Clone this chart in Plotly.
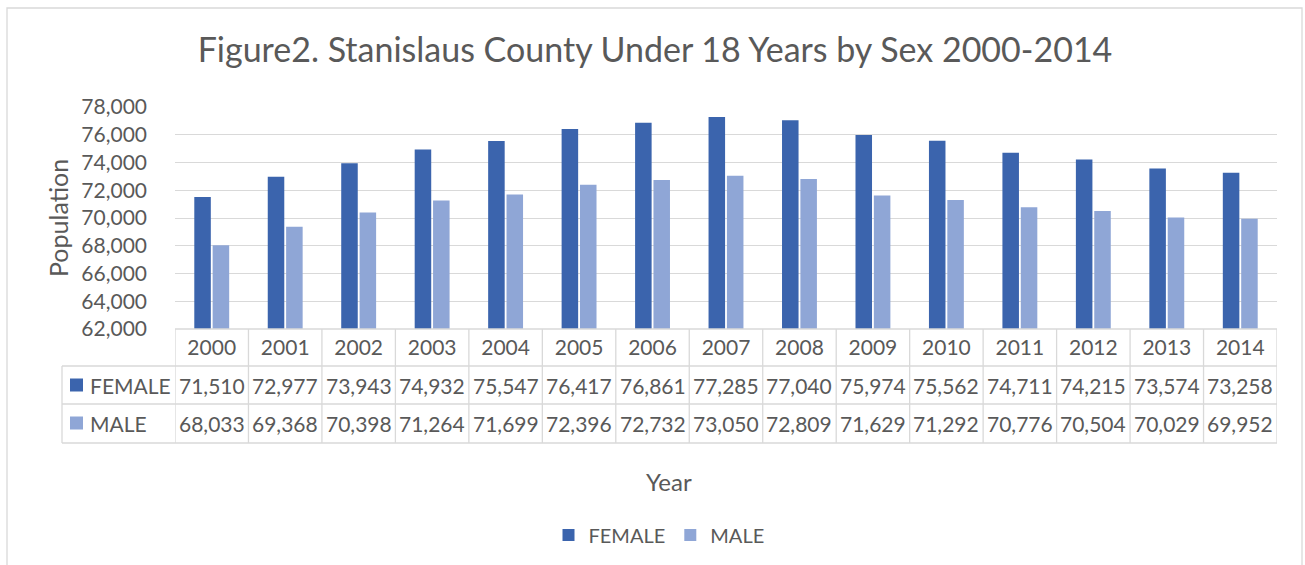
import plotly.graph_objects as go

years = ["2000", "2001", "2002", "2003", "2004", "2005", "2006", "2007",
         "2008", "2009", "2010", "2011", "2012", "2013", "2014"]
female = [71510, 72977, 73943, 74932, 75547, 76417, 76861, 77285,
          77040, 75974, 75562, 74711, 74215, 73574, 73258]
male = [68033, 69368, 70398, 71264, 71699, 72396, 72732, 73050,
        72809, 71629, 71292, 70776, 70504, 70029, 69952]
series_names = ["FEMALE", "MALE"]
colors = ["#3B64AD", "#8FA6D6"]
y_ticks = [62000, 64000, 66000, 68000, 70000, 72000, 74000, 76000, 78000]

FONT = "Lato"
TXT = "#595959"
GRID = "#D9D9D9"
TS = 21  # table / tick font size

W, H = 1305, 565
L, R, T, B = 175, 28, 107, 236
PW = W - L - R
PH = H - T - B


def py(px):  # pixel y -> paper y
    return (H - B - px) / PH


def pxx(px):  # pixel x -> paper x
    return (px - L) / PW


fig = go.Figure()
for name, vals, c in zip(series_names, [female, male], colors):
    fig.add_trace(go.Bar(x=years, y=vals, name=name, marker_color=c,
                         marker_line_width=0))

annotations = []
shapes = []

# table cell texts (x = category index on the category axis)
row_y = [py(385), py(423)]
for vals, yy in zip([female, male], row_y):
    for i, v in enumerate(vals):
        annotations.append(dict(x=i, y=yy, xref="x", yref="paper",
                                xanchor="center", yanchor="middle",
                                text=f"{v:,}", showarrow=False,
                                font=dict(family=FONT, size=TS, color=TXT)))

# row labels
for name, c, yy in zip(series_names, colors, row_y):
    annotations.append(dict(x=pxx(88), y=yy, xref="paper", yref="paper",
                            xanchor="left", yanchor="middle", text=name,
                            showarrow=False,
                            font=dict(family=FONT, size=TS, color=TXT)))
    shapes.append(dict(type="rect", xref="paper", yref="paper",
                       x0=pxx(70), x1=pxx(83), y0=yy - 6.5 / PH, y1=yy + 6.5 / PH,
                       fillcolor=c, line_width=0))

# table lines
n = len(years)
line = dict(color=GRID, width=1.3)
shapes.append(dict(type="line", xref="x", yref="paper", x0=-0.5, x1=n - 0.5,
                   y0=0, y1=0, line=line))
for ypx in [366, 404, 443]:
    shapes.append(dict(type="line", xref="paper", yref="paper", x0=pxx(62), x1=1,
                       y0=py(ypx), y1=py(ypx), line=line))
for i in range(n + 1):
    shapes.append(dict(type="line", xref="x", yref="paper", x0=i - 0.5, x1=i - 0.5,
                       y0=0, y1=py(443), line=line))
shapes.append(dict(type="line", xref="paper", yref="paper", x0=pxx(62), x1=pxx(62),
                   y0=py(366), y1=py(443), line=line))

# chart border
shapes.append(dict(type="rect", xref="paper", yref="paper",
                   x0=pxx(7), x1=pxx(1302), y0=py(575), y1=py(8),
                   line=dict(color=GRID, width=1.3), fillcolor="rgba(0,0,0,0)",
                   layer="below"))

# axis titles
annotations.append(dict(x=pxx(669), y=py(481), xref="paper", yref="paper",
                        xanchor="center", yanchor="middle",
                        text="Year", showarrow=False,
                        font=dict(family=FONT, size=24, color=TXT)))
annotations.append(dict(x=pxx(58), y=py(218), xref="paper", yref="paper",
                        xanchor="center", yanchor="middle",
                        text="Population", textangle=-90, showarrow=False,
                        font=dict(family=FONT, size=25, color=TXT)))

fig.update_layout(
    width=W, height=H,
    margin=dict(l=L, r=R, t=T, b=B, autoexpand=False),
    paper_bgcolor="white", plot_bgcolor="white",
    title=dict(text="Figure2. Stanislaus County Under 18 Years by Sex 2000-2014",
               xref="container", x=655 / W, xanchor="center",
               yref="container", y=1 - 50 / H, yanchor="middle",
               font=dict(family=FONT, size=34, color=TXT)),
    barmode="group", bargap=0.5, bargroupgap=0.1,
    showlegend=True,
    legend=dict(orientation="h", x=pxx(659), xanchor="center",
                y=py(535), yanchor="middle",
                font=dict(family=FONT, size=20, color=TXT),
                itemclick=False, bgcolor="rgba(0,0,0,0)"),
    xaxis=dict(type="category", categoryorder="array", categoryarray=years,
               showgrid=False, showline=False, ticks="",
               ticklabelstandoff=4,
               tickfont=dict(family=FONT, size=TS, color=TXT),
               range=[-0.5, n - 0.5], fixedrange=True),
    yaxis=dict(range=[62000, 78000], tickvals=y_ticks,
               ticktext=[f"{v:,}" for v in y_ticks],
               showgrid=True, gridcolor=GRID, gridwidth=1.3,
               showline=False, zeroline=False, ticks="",
               ticklabelstandoff=27,
               tickfont=dict(family=FONT, size=TS, color=TXT)),
    annotations=annotations,
    shapes=shapes,
)

fig.write_html("out.html",
               config={"displayModeBar": False},
               post_script="document.body.style.margin='0';"
                           "document.body.style.overflow='hidden';")
